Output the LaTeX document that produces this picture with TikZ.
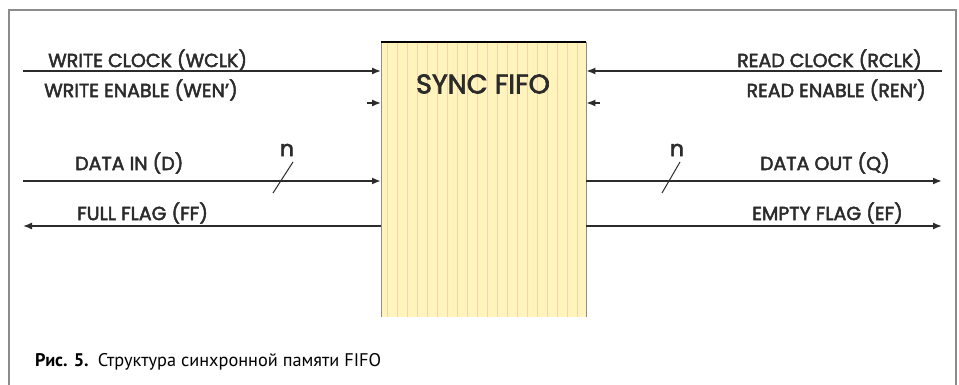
\documentclass[tikz,border=0pt]{standalone}
\usepackage{fontspec}
\setmainfont{Poppins}[FakeBold=2.5]
\newfontfamily\capfont{PT Sans}
\usetikzlibrary{arrows.meta}
\definecolor{fifofill}{HTML}{FFF4BC}
\definecolor{fifostripe}{HTML}{F8D2AC}
\definecolor{fifoframe}{HTML}{8C8C8C}
\definecolor{sigtext}{HTML}{2B2B2B}
\tikzset{
  sig/.style={draw=sigtext,line width=1.4pt,-{Latex[length=9pt,width=7pt]}},
  bus/.style={sig,line width=2.6pt},
  lbl/.style={text=sigtext,font=\fontsize{19}{22}\selectfont,inner sep=0pt},
}

\begin{document}
\begin{tikzpicture}[x=1pt,y=-1pt]
\useasboundingbox (0,0) rectangle (959,385);
% frame round the figure
\draw[fifoframe,line width=1.5pt] (9,385) -- (9,10) -- (956,10) -- (956,385);
% the fifo block
\node[fill=fifofill,minimum width=205pt,minimum height=275pt,inner sep=0pt,anchor=north west] (fifo) at (381,42) {};
\foreach \x in {6,16,...,200}
  \draw[fifostripe,line width=0.8pt] ([xshift=\x pt]fifo.north west) -- ([xshift=\x pt]fifo.south west);
\draw[fifoframe,line width=1pt] (fifo.south west) -- (fifo.north west);
\draw[fifoframe,line width=1pt] (fifo.south east) -- (fifo.north east);
\draw[black,line width=1.2pt] (fifo.north west) -- (fifo.north east);
\node[lbl,font=\fontsize{27}{30}\selectfont] (title) at (483,84) {SYNC FIFO};
% write side
\coordinate (wclk) at (23,71);
\coordinate (wen) at (367,103);
\coordinate (din) at (23,181);
\coordinate (ff) at (23,226);
\draw[sig] (wclk) -- (wclk -| fifo.west);
\draw[sig] (wen) -- (wen -| fifo.west);
\draw[bus] (din) -- (din -| fifo.west);
\draw[sig] (ff -| fifo.west) -- (ff);
\node[lbl,anchor=west] (wclklbl) at (48,60) {WRITE CLOCK (WCLK)};
\node[lbl,anchor=west] (wenlbl) at (44,90) {WRITE ENABLE (WEN')};
\node[lbl,anchor=west] (dinlbl) at (75,163) {DATA IN (D)};
\node[lbl,anchor=west] (fflbl) at (77,213) {FULL FLAG (FF)};
\draw[sigtext,line width=1pt] (273,193) -- (293,162);
\node[lbl,font=\fontsize{22}{24}\selectfont] (nin) at (287,150) {n};
% read side
\coordinate (rclk) at (942,71);
\coordinate (ren) at (600,103);
\coordinate (dout) at (942,181);
\coordinate (ef) at (942,226);
\draw[sig] (rclk) -- (rclk -| fifo.east);
\draw[sig] (ren) -- (ren -| fifo.east);
\draw[bus] (dout -| fifo.east) -- (dout);
\draw[sig] (ef -| fifo.east) -- (ef);
\node[lbl,anchor=east] (rclklbl) at (922,60) {READ CLOCK (RCLK)};
\node[lbl,anchor=east] (renlbl) at (926,90) {READ ENABLE (REN')};
\node[lbl,anchor=east] (doutlbl) at (890,163) {DATA OUT (Q)};
\node[lbl,anchor=east] (eflbl) at (903,213) {EMPTY FLAG (EF)};
\draw[sigtext,line width=1pt] (662,193) -- (680,162);
\node[lbl,font=\fontsize{22}{24}\selectfont] (nout) at (677,150) {n};
% caption
\node[anchor=west,inner sep=0pt,font=\capfont\fontsize{18.3}{21}\selectfont] (cap) at (35,362)
  {\textbf{Рис. 5.}\enspace Структура синхронной памяти FIFO};
\end{tikzpicture}
\end{document}
